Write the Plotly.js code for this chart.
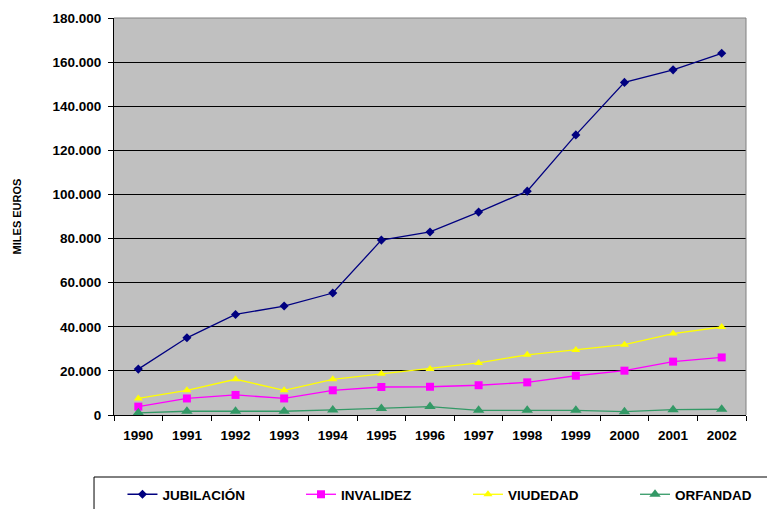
<!DOCTYPE html>
<html>
<head>
<meta charset="utf-8">
<script src="https://cdn.plot.ly/plotly-3.0.1.min.js"></script>
<style>html,body{margin:0;padding:0;background:#fff;}#chart{width:767px;height:509px;}</style>
</head>
<body>
<div id="chart"></div>
<script>
const years = ["1990","1991","1992","1993","1994","1995","1996","1997","1998","1999","2000","2001","2002"];
const jubilacion = [20800, 35000, 45600, 49400, 55300, 79300, 83000, 92000, 101500, 127000, 150800, 156500, 164000];
const invalidez  = [3800, 7500, 9100, 7500, 11200, 12700, 12800, 13500, 14800, 17800, 20100, 24200, 26100];
const viudedad   = [7500, 11200, 16200, 11200, 16200, 18700, 20900, 23600, 27300, 29500, 31900, 36900, 39900];
const orfandad   = [1000, 1700, 1700, 1700, 2300, 2900, 3800, 2100, 2100, 2100, 1500, 2400, 2600];
const yTicks = [0, 20000, 40000, 60000, 80000, 100000, 120000, 140000, 160000, 180000];

const F = "Arial, 'Liberation Sans', sans-serif";
function tr(name, y, color, symbol, size, leg) {
  return {x: years, y: y, name: name, type: "scatter", mode: "lines+markers", legend: leg,
    line: {color: color, width: 1.3}, marker: {color: color, symbol: symbol, size: size}};
}
const data = [
  tr("JUBILACIÓN", jubilacion, "#000080", "diamond", 7, "legend"),
  tr("INVALIDEZ", invalidez, "#FF00FF", "square", 8, "legend2"),
  tr("VIUDEDAD", viudedad, "#FFFF00", "triangle-up", 8, "legend3"),
  tr("ORFANDAD", orfandad, "#339966", "triangle-up", 10, "legend4")
];
function leg(x) {
  return {orientation: "h", x: x, xanchor: "left", y: -0.1612, yanchor: "top",
    borderwidth: 0, bgcolor: "rgba(0,0,0,0)",
    font: {family: F, size: 13.5, weight: "bold"}};
}
const layout = {
  width: 767, height: 509,
  margin: {l: 114, r: 21, t: 18, b: 94, autoexpand: false},
  paper_bgcolor: "#fff", plot_bgcolor: "#C0C0C0",
  separators: ",.",
  showlegend: true,
  font: {family: F, color: "#000"},
  xaxis: {type: "category", range: [-0.5, 12.5], tickson: "boundaries", ticks: "outside", ticklen: 5, tickcolor: "#000",
    showline: true, linecolor: "#000", linewidth: 1, showgrid: false, mirror: false,
    tickfont: {family: F, size: 13.5, weight: "bold"}, ticklabelstandoff: 8, fixedrange: true},
  yaxis: {range: [0, 180000], tickvals: yTicks, tickformat: ",.0f", ticks: "outside", ticklen: 5,
    tickcolor: "#000", showline: true, linecolor: "#000", linewidth: 1,
    showgrid: true, gridcolor: "#000", gridwidth: 1, zeroline: false,
    tickfont: {family: F, size: 13.5, weight: "bold"}, ticklabelstandoff: 4,
    title: {text: "MILES EUROS", font: {family: F, size: 11, weight: "bold"}, standoff: 28}},
  legend: leg(0.0134),
  legend2: leg(0.2959),
  legend3: leg(0.5601),
  legend4: leg(0.8244),
  shapes: [
    {type: "line", xref: "paper", yref: "paper", x0: 0, x1: 1, y0: 1, y1: 1, line: {color: "#808080", width: 1}},
    {type: "line", xref: "paper", yref: "paper", x0: 1, x1: 1, y0: 0, y1: 1, line: {color: "#808080", width: 1}},
    {type: "rect", xref: "paper", yref: "paper", x0: -0.0316, x1: 1.2, y0: -0.1562, y1: -0.3, line: {color: "#000", width: 1}, fillcolor: "rgba(0,0,0,0)"}
  ]
};
Plotly.newPlot("chart", data, layout, {displayModeBar: false, staticPlot: true});
</script>
</body>
</html>
